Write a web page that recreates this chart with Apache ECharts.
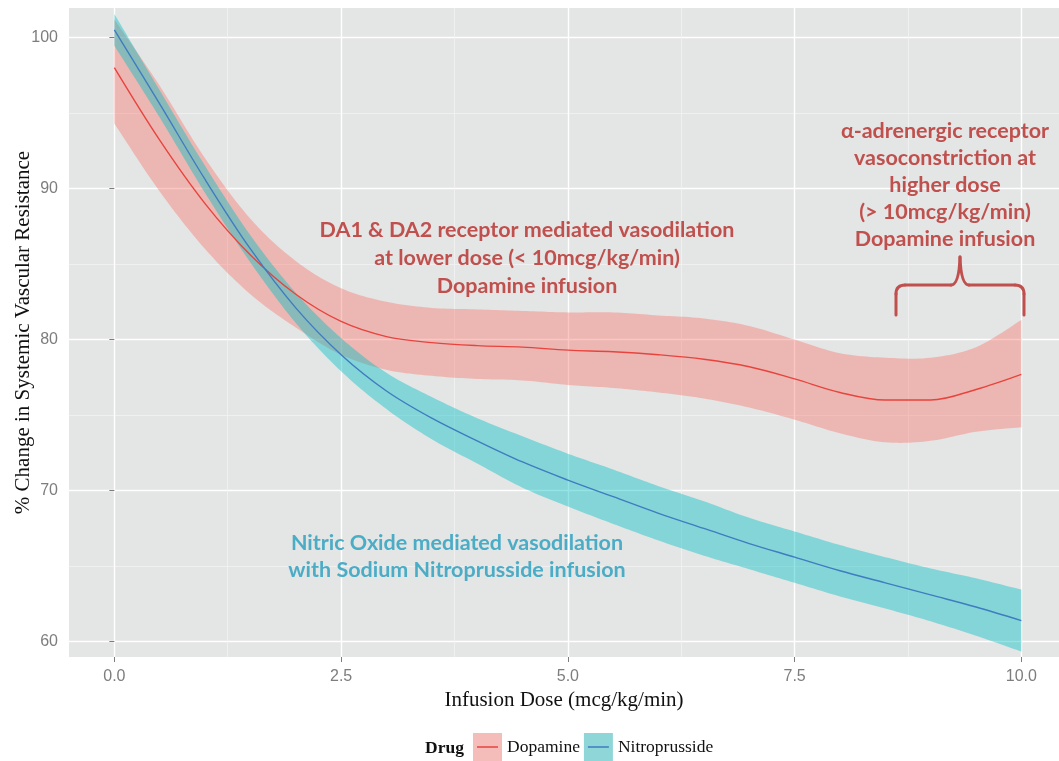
<!DOCTYPE html>
<html><head><meta charset="utf-8">
<script src="https://cdn.jsdelivr.net/npm/echarts@6/dist/echarts.min.js"></script>
<style>html,body{margin:0;padding:0;background:#fff}#c{width:1059px;height:761px}</style>
</head><body><div id="c"></div><script>
// ---- data ----
const doses   = [0,0.5,1,1.5,2,2.5,3,3.5,4,4.5,5,5.5,6,6.5,7,7.5,8,8.5,9,9.5,10];
const dopMid  = [98.0,93.2,89.0,85.6,83.0,81.2,80.2,79.8,79.6,79.5,79.3,79.2,79.0,78.7,78.2,77.4,76.5,76.0,76.0,76.7,77.7];
const dopHi   = [101.2,96.8,92.0,88.0,85.2,83.4,82.5,82.1,82.0,81.9,81.8,81.8,81.6,81.4,80.9,80.0,79.1,78.8,78.8,79.5,81.3];
const dopLo   = [94.3,89.8,86.0,83.0,80.8,79.0,78.0,77.6,77.4,77.3,77.0,76.8,76.5,76.1,75.5,74.7,73.8,73.2,73.3,73.9,74.2];
const nitMid  = [100.5,95.6,90.6,86.0,82.1,79.0,76.6,74.8,73.3,71.9,70.7,69.6,68.5,67.5,66.5,65.6,64.7,63.9,63.1,62.3,61.4];
const nitHi   = [101.55,96.5,91.5,86.9,83.1,80.1,77.8,76.2,74.8,73.6,72.45,71.4,70.3,69.3,68.2,67.3,66.4,65.6,64.85,64.2,63.45];
const nitLo   = [99.45,94.7,89.7,85.1,81.1,77.9,75.4,73.4,71.8,70.2,68.95,67.8,66.7,65.7,64.8,63.9,63.0,62.2,61.35,60.4,59.35];
const xTicks  = [0,2.5,5,7.5,10];
const xMinor  = [1.25,3.75,6.25,8.75];
const yTicks  = [60,70,80,90,100];
const yMinor  = [65,75,85,95];
const seriesNames = ['Dopamine','Nitroprusside'];

const C = {
  dopBand:'rgba(248,118,109,0.42)', nitBand:'rgba(0,191,196,0.42)',
  dopLine:'#E8443E', nitLine:'#3F7CC0',
  dopKey:'#F4BDBA', nitKey:'#8FD6D8',
  red:'#C0504D', teal:'#4BACC6', tick:'#7d7d7d'
};
const pairs = (arr) => doses.map((d,i)=>[d,arr[i]]);

const X_MIN=-0.5, X_MAX=10.415, Y_MIN=58.99, Y_MAX=101.95;
const serif='"Liberation Serif","Times New Roman",serif';
const sans='"Liberation Sans",Arial,sans-serif';
const callout='Lato,"Open Sans",sans-serif';

// smooth a pixel polyline (Catmull-Rom) for drawing only
function smoothPx(pts, seg){
  const out=[];
  for(let i=0;i<pts.length-1;i++){
    const p0=pts[i-1]||pts[i], p1=pts[i], p2=pts[i+1], p3=pts[i+2]||pts[i+1];
    for(let s=0;s<seg;s++){
      const t=s/seg, t2=t*t, t3=t2*t;
      const f=(a,b,c,d)=>0.5*((2*b)+(-a+c)*t+(2*a-5*b+4*c-d)*t2+(-a+3*b-3*c+d)*t3);
      out.push([f(p0[0],p1[0],p2[0],p3[0]), f(p0[1],p1[1],p2[1],p3[1])]);
    }
  }
  out.push(pts[pts.length-1]);
  return out;
}
function bandSeries(lo, hi, color){
  return {type:'custom', silent:true, xAxisIndex:0, yAxisIndex:0,
    data: doses.map((d,i)=>[d, lo[i], hi[i]]),
    encode:{x:0, y:[1,2]},
    renderItem:(params, api)=>{
      if(params.dataIndex!==0) return null;
      const top = smoothPx(doses.map((d,i)=>api.coord([d,hi[i]])), 12);
      const bot = smoothPx(doses.map((d,i)=>api.coord([d,lo[i]])), 12).reverse();
      return {type:'polygon', shape:{points:top.concat(bot)}, style:{fill:color}};
    }};
}
const braceStyle = {stroke:C.red, lineWidth:3, fill:null, lineCap:'round'};
const braceParts = [
  {type:'line', shape:{x1:896,y1:315,x2:896,y2:294}},
  {type:'bezierCurve', shape:{x1:896,y1:294,cpx1:896,cpy1:285,x2:905,y2:285}},
  {type:'line', shape:{x1:905,y1:285,x2:951,y2:285}},
  {type:'bezierCurve', shape:{x1:951,y1:285,cpx1:959,cpy1:285,x2:960,y2:257}},
  {type:'bezierCurve', shape:{x1:960,y1:257,cpx1:961,cpy1:285,x2:969,y2:285}},
  {type:'line', shape:{x1:969,y1:285,x2:1015,y2:285}},
  {type:'bezierCurve', shape:{x1:1015,y1:285,cpx1:1024,cpy1:285,x2:1024,y2:294}},
  {type:'line', shape:{x1:1024,y1:294,x2:1024,y2:315}}
].map(p=>Object.assign(p,{style:braceStyle, z:20, silent:true}));

const chart = echarts.init(document.getElementById('c'), null, {renderer:'canvas'});
chart.setOption({
  animation:false,
  backgroundColor:'#ffffff',
  grid:{left:69, right:0, top:8, bottom:104, show:true, backgroundColor:'#E4E5E5', borderWidth:0, outerBoundsMode:'none', containLabel:false},
  xAxis:[
    {type:'value', min:X_MIN, max:X_MAX, position:'bottom',
     axisLine:{show:false},
     axisTick:{show:true, length:5, customValues:xTicks, lineStyle:{color:C.tick, width:1}},
     axisLabel:{customValues:xTicks, formatter:v=>Number(v).toFixed(1), color:C.tick, fontSize:16, fontFamily:sans, margin:12},
     splitLine:{show:true, customValues:xTicks, lineStyle:{color:'#ffffff', width:1.4}},
     name:'Infusion Dose (mcg/kg/min)', nameLocation:'middle', nameGap:27,
     nameTextStyle:{fontFamily:serif, fontSize:21, color:'#111'}},
    {type:'value', min:X_MIN, max:X_MAX, position:'bottom', gridIndex:0,
     axisLine:{show:false}, axisLabel:{show:false},
     axisTick:{show:false, customValues:xMinor},
     splitLine:{show:true, customValues:xMinor, lineStyle:{color:'#F2F2F2', width:0.8}}}
  ],
  yAxis:[
    {type:'value', min:Y_MIN, max:Y_MAX,
     axisLine:{show:false},
     axisTick:{show:true, length:5, customValues:yTicks, lineStyle:{color:C.tick, width:1}},
     axisLabel:{customValues:yTicks, color:C.tick, fontSize:16, fontFamily:sans, margin:11},
     splitLine:{show:true, customValues:yTicks, lineStyle:{color:'#ffffff', width:1.4}},
     name:'% Change in Systemic Vascular Resistance', nameLocation:'middle', nameGap:35, nameRotate:90,
     nameMoveOverlap:false,
     nameTextStyle:{fontFamily:serif, fontSize:21, color:'#111'}},
    {type:'value', min:Y_MIN, max:Y_MAX, gridIndex:0,
     axisLine:{show:false}, axisLabel:{show:false},
     axisTick:{show:false, customValues:yMinor},
     splitLine:{show:true, customValues:yMinor, lineStyle:{color:'#F2F2F2', width:0.8}}}
  ],
  legend:[
    {left:473, top:733, padding:0, itemWidth:29, itemHeight:28, itemGap:4, selectedMode:false, icon:'rect',
     textStyle:{fontFamily:serif, fontSize:17.5, color:'#111'},
     data:[{name:seriesNames[0], itemStyle:{color:C.dopKey}},{name:seriesNames[1], itemStyle:{color:C.nitKey}}]},
    {left:473, top:733, padding:0, itemWidth:29, itemHeight:28, itemGap:4, selectedMode:false, z:10,
     symbolKeepAspect:false,
     textStyle:{fontFamily:serif, fontSize:17.5, color:'rgba(0,0,0,0)'},
     data:[
       {name:seriesNames[0], icon:'path://M0,0L0.01,0L0,0.01ZM4,13.2L25,13.2L25,14.8L4,14.8ZM29,28L28.99,28L29,27.99Z', itemStyle:{color:C.dopLine}},
       {name:seriesNames[1], icon:'path://M0,0L0.01,0L0,0.01ZM4,13.2L25,13.2L25,14.8L4,14.8ZM29,28L28.99,28L29,27.99Z', itemStyle:{color:C.nitLine}}
     ]}
  ],
  graphic:[
    {type:'text', left:425, top:739, style:{text:'Drug', font:'bold 17.5px '+serif, fill:'#111'}},
    {type:'text', x:527, y:258, z:20, style:{text:'DA1 & DA2 receptor mediated vasodilation\nat lower dose (< 10mcg/kg/min)\nDopamine infusion',
      font:'bold 21.5px '+callout, fill:C.red, align:'center', verticalAlign:'middle', lineHeight:28}},
    {type:'text', x:945, y:185, z:20, style:{text:'α-adrenergic receptor\nvasoconstriction at\nhigher dose\n(> 10mcg/kg/min)\nDopamine infusion',
      font:'bold 21.5px '+callout, fill:C.red, align:'center', verticalAlign:'middle', lineHeight:27}},
    {type:'text', x:457, y:557, z:20, style:{text:'Nitric Oxide mediated vasodilation\nwith Sodium Nitroprusside infusion',
      font:'bold 21.5px '+callout, fill:C.teal, align:'center', verticalAlign:'middle', lineHeight:27}},
    ...braceParts
  ],
  series:[
    bandSeries(dopLo, dopHi, C.dopBand),
    {name:seriesNames[0], type:'line', data:pairs(dopMid), symbol:'none', smooth:0.35, lineStyle:{color:C.dopLine, width:1.4}, itemStyle:{color:C.dopLine}, xAxisIndex:0, yAxisIndex:0},
    bandSeries(nitLo, nitHi, C.nitBand),
    {name:seriesNames[1], type:'line', data:pairs(nitMid), symbol:'none', smooth:0.35, lineStyle:{color:C.nitLine, width:1.4}, itemStyle:{color:C.nitLine}, xAxisIndex:0, yAxisIndex:0}
  ]
});
</script></body></html>
